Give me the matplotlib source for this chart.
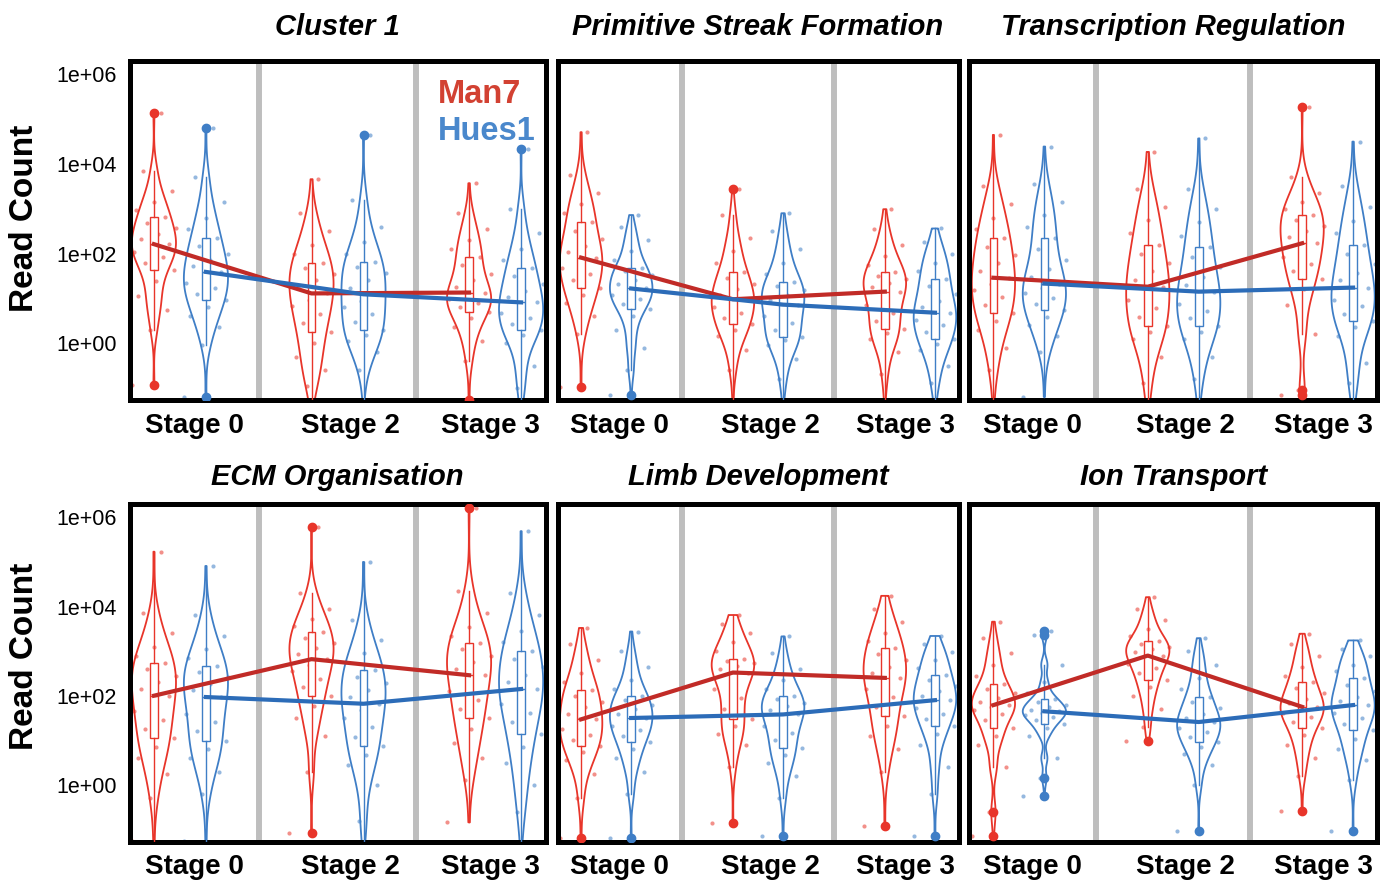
import numpy as np
import matplotlib.pyplot as plt

plt.rcParams['font.family'] = ['Liberation Sans', 'DejaVu Sans']

stages = ['Stage 0', 'Stage 2', 'Stage 3']
titles = ['Cluster 1', 'Primitive Streak Formation', 'Transcription Regulation',
          'ECM Organisation', 'Limb Development', 'Ion Transport']
ytick_vals = [0, 2, 4, 6]
ytick_labels = ['1e+00', '1e+02', '1e+04', '1e+06']

# log10(read count) at the 0, 5, 10 ... 100 % levels
# one list per stage (Stage 0, Stage 2, Stage 3)
cluster1_man7 = [
    [-0.94, 0.3, 0.75, 1.05, 1.38, 1.64, 1.78, 1.92, 2.04, 2.13, 2.21, 2.32, 2.43, 2.56, 2.68, 2.81, 2.97, 3.15, 3.4, 3.85, 5.13],
    [-1.27, -0.95, -0.6, -0.3, 0.0, 0.24, 0.45, 0.65, 0.82, 0.97, 1.11, 1.25, 1.4, 1.55, 1.68, 1.80, 1.98, 2.2, 2.5, 2.9, 3.66],
    [-1.27, -0.4, 0.05, 0.35, 0.55, 0.70, 0.8, 0.9, 0.98, 1.05, 1.13, 1.25, 1.4, 1.55, 1.75, 1.93, 2.1, 2.3, 2.55, 2.9, 3.57],
]
cluster1_hues1 = [
    [-1.2, -0.05, 0.35, 0.6, 0.8, 0.97, 1.1, 1.22, 1.35, 1.47, 1.59, 1.72, 1.86, 2.0, 2.17, 2.35, 2.55, 2.8, 3.15, 3.7, 4.8],
    [-1.27, -0.6, -0.2, 0.05, 0.18, 0.29, 0.48, 0.65, 0.8, 0.95, 1.09, 1.24, 1.4, 1.56, 1.7, 1.82, 2.0, 2.25, 2.6, 3.2, 4.65],
    [-1.27, -1.0, -0.5, 0.0, 0.18, 0.29, 0.42, 0.55, 0.68, 0.8, 0.91, 1.03, 1.17, 1.32, 1.5, 1.67, 1.85, 2.1, 2.45, 3.0, 4.33],
]
streak_man7 = [
    [-0.98, 0.2, 0.6, 0.9, 1.08, 1.24, 1.4, 1.55, 1.68, 1.8, 1.91, 2.03, 2.17, 2.32, 2.5, 2.71, 2.9, 3.1, 3.35, 3.75, 4.71],
    [-1.27, -0.6, -0.15, 0.15, 0.3, 0.42, 0.55, 0.68, 0.8, 0.9, 0.98, 1.08, 1.2, 1.33, 1.46, 1.59, 1.8, 2.05, 2.35, 2.85, 3.44],
    [-1.27, -0.7, -0.2, 0.1, 0.22, 0.31, 0.5, 0.68, 0.85, 1.0, 1.15, 1.25, 1.34, 1.43, 1.51, 1.59, 1.75, 1.95, 2.2, 2.55, 2.99],
]
streak_hues1 = [
    [-1.16, -0.6, -0.1, 0.3, 0.6, 0.76, 0.88, 0.98, 1.07, 1.15, 1.22, 1.31, 1.41, 1.52, 1.6, 1.67, 1.85, 2.05, 2.3, 2.6, 2.86],
    [-1.27, -0.8, -0.35, -0.05, 0.06, 0.14, 0.3, 0.45, 0.6, 0.74, 0.86, 0.97, 1.08, 1.18, 1.28, 1.37, 1.55, 1.8, 2.1, 2.5, 2.9],
    [-1.27, -0.9, -0.5, -0.15, -0.02, 0.09, 0.25, 0.4, 0.52, 0.6, 0.68, 0.8, 0.95, 1.1, 1.28, 1.44, 1.6, 1.8, 2.0, 2.25, 2.56],
]
transcr_man7 = [
    [-1.27, -0.6, -0.1, 0.3, 0.5, 0.68, 0.85, 1.02, 1.18, 1.32, 1.46, 1.62, 1.8, 1.97, 2.15, 2.34, 2.55, 2.8, 3.1, 3.5, 4.65],
    [-1.27, -0.9, -0.3, 0.1, 0.25, 0.39, 0.58, 0.78, 0.97, 1.12, 1.26, 1.42, 1.6, 1.8, 2.0, 2.2, 2.45, 2.75, 3.05, 3.45, 4.27],
    [-1.15, -1.05, 0.2, 0.85, 1.2, 1.43, 1.6, 1.77, 1.93, 2.08, 2.23, 2.37, 2.5, 2.62, 2.75, 2.87, 3.0, 3.15, 3.35, 3.7, 5.28],
]
transcr_hues1 = [
    [-1.2, -0.2, 0.15, 0.4, 0.58, 0.73, 0.87, 1.0, 1.12, 1.22, 1.33, 1.48, 1.65, 1.85, 2.1, 2.34, 2.6, 2.85, 3.15, 3.55, 4.39],
    [-1.27, -0.8, -0.3, 0.1, 0.25, 0.39, 0.55, 0.72, 0.88, 1.02, 1.15, 1.3, 1.48, 1.7, 1.92, 2.15, 2.4, 2.7, 3.0, 3.45, 4.57],
    [-1.27, -0.9, -0.45, 0.15, 0.35, 0.49, 0.65, 0.82, 0.97, 1.1, 1.24, 1.4, 1.57, 1.77, 1.98, 2.2, 2.45, 2.72, 3.05, 3.5, 4.5],
]
ecm_man7 = [
    [-1.25, -0.3, 0.25, 0.6, 0.85, 1.06, 1.25, 1.45, 1.65, 1.83, 2.0, 2.15, 2.3, 2.45, 2.6, 2.73, 2.9, 3.1, 3.4, 3.85, 5.23],
    [-1.07, 0.3, 1.1, 1.5, 1.78, 2.0, 2.2, 2.38, 2.55, 2.7, 2.82, 2.94, 3.06, 3.18, 3.3, 3.42, 3.56, 3.72, 3.95, 4.3, 5.79],
    [-0.84, 0.1, 0.6, 0.95, 1.25, 1.5, 1.7, 1.9, 2.1, 2.3, 2.46, 2.6, 2.75, 2.9, 3.04, 3.18, 3.35, 3.55, 3.85, 4.35, 6.2],
]
ecm_hues1 = [
    [-1.25, -0.2, 0.3, 0.6, 0.8, 0.98, 1.2, 1.4, 1.6, 1.8, 1.97, 2.12, 2.27, 2.41, 2.54, 2.66, 2.85, 3.05, 3.35, 3.8, 4.91],
    [-1.27, -0.8, 0.0, 0.45, 0.68, 0.87, 1.08, 1.3, 1.5, 1.67, 1.82, 1.97, 2.12, 2.28, 2.43, 2.58, 2.75, 2.95, 3.25, 3.7, 5.0],
    [-1.27, -0.6, 0.0, 0.5, 0.85, 1.15, 1.4, 1.62, 1.82, 2.0, 2.15, 2.3, 2.47, 2.65, 2.83, 3.01, 3.2, 3.45, 3.8, 4.3, 5.69],
]
limb_man7 = [
    [-1.2, -0.3, 0.25, 0.55, 0.73, 0.87, 1.0, 1.12, 1.25, 1.36, 1.47, 1.6, 1.74, 1.87, 2.0, 2.12, 2.3, 2.5, 2.8, 3.15, 3.52],
    [-0.86, 0.4, 0.9, 1.15, 1.32, 1.47, 1.7, 1.95, 2.15, 2.35, 2.52, 2.6, 2.67, 2.73, 2.78, 2.83, 3.0, 3.2, 3.4, 3.6, 3.81],
    [-0.93, 0.3, 0.8, 1.1, 1.33, 1.54, 1.75, 1.98, 2.15, 2.28, 2.4, 2.52, 2.65, 2.79, 2.93, 3.07, 3.22, 3.4, 3.65, 3.95, 4.24],
]
limb_hues1 = [
    [-1.2, -0.2, 0.3, 0.6, 0.8, 0.97, 1.1, 1.22, 1.32, 1.41, 1.5, 1.6, 1.7, 1.8, 1.9, 1.99, 2.15, 2.35, 2.65, 3.0, 3.44],
    [-1.15, -0.3, 0.2, 0.5, 0.68, 0.83, 1.0, 1.17, 1.32, 1.46, 1.58, 1.67, 1.76, 1.84, 1.92, 1.99, 2.15, 2.35, 2.6, 2.95, 3.33],
    [-1.14, -0.2, 0.4, 0.9, 1.15, 1.32, 1.47, 1.6, 1.72, 1.81, 1.9, 2.0, 2.1, 2.22, 2.35, 2.47, 2.62, 2.8, 2.98, 3.15, 3.34],
]
ion_man7 = [
    [-1.14, -0.6, 0.4, 0.9, 1.1, 1.27, 1.45, 1.58, 1.67, 1.74, 1.79, 1.86, 1.95, 2.06, 2.16, 2.26, 2.45, 2.7, 2.95, 3.3, 3.66],
    [0.98, 1.3, 1.7, 2.0, 2.2, 2.36, 2.5, 2.62, 2.72, 2.81, 2.9, 2.97, 3.04, 3.1, 3.16, 3.22, 3.35, 3.5, 3.7, 3.95, 4.21],
    [-0.58, 0.2, 0.6, 0.9, 1.12, 1.28, 1.42, 1.53, 1.62, 1.69, 1.75, 1.83, 1.93, 2.05, 2.17, 2.3, 2.45, 2.65, 2.9, 3.15, 3.39],
]
ion_hues1 = [
    [-0.25, 0.15, 0.6, 1.1, 1.27, 1.37, 1.45, 1.52, 1.57, 1.61, 1.65, 1.69, 1.74, 1.8, 1.86, 1.93, 2.05, 2.3, 2.7, 3.37, 3.45],
    [-1.03, 0.0, 0.45, 0.7, 0.85, 0.97, 1.08, 1.18, 1.27, 1.34, 1.41, 1.5, 1.6, 1.72, 1.85, 1.97, 2.15, 2.4, 2.7, 3.0, 3.29],
    [-1.03, 0.1, 0.55, 0.8, 1.02, 1.22, 1.37, 1.5, 1.61, 1.7, 1.79, 1.88, 1.98, 2.1, 2.24, 2.4, 2.55, 2.7, 2.88, 3.05, 3.24],
]

panels = [
    (titles[0], cluster1_man7, cluster1_hues1),
    (titles[1], streak_man7, streak_hues1),
    (titles[2], transcr_man7, transcr_hues1),
    (titles[3], ecm_man7, ecm_hues1),
    (titles[4], limb_man7, limb_hues1),
    (titles[5], ion_man7, ion_hues1),
]

red, red_line = '#E8352A', '#C12B27'
blue, blue_line = '#3F7EC6', '#2C6CB8'


def draw_violin(ax, p, vals, col, half=0.14):
    # gaussian kde over the read-off levels, trimmed to min/max like ggplot
    v = np.asarray(vals, dtype=float)
    w = np.ones(len(v))
    w[[0, -1]] = 0.15
    w[[1, -2]] = 0.7
    q1, q3 = np.percentile(v, [25, 75])
    h = 0.36 * min(v.std(), (q3 - q1) / 1.34)
    y = np.linspace(v.min(), v.max(), 300)
    d = (w * np.exp(-0.5 * ((y[:, None] - v[None, :]) / h) ** 2)).sum(axis=1)
    d = d / d.max() * half
    ax.fill_betweenx(y, p - d, p + d, facecolor='none', edgecolor=col, lw=1.3, zorder=2)


W, H = 1388, 889
fig = plt.figure(figsize=(W / 100, H / 100), dpi=100)
col_x = [(129.5, 545.5), (557.5, 958.5), (969.5, 1377)]
row_y = [(61, 400), (504, 841.5)]
title_pad = [19, 14]

for i, (title, man7, hues1) in enumerate(panels):
    r, c = divmod(i, 3)
    x0, x1 = col_x[c]
    y0, y1 = row_y[r]
    ax = fig.add_axes([x0 / W, 1 - y1 / H, (x1 - x0) / W, (y1 - y0) / H])

    ax.axvline(1.5, color='#BEBEBE', lw=4.3, zorder=0)
    ax.axvline(2.5, color='#BEBEBE', lw=4.3, zorder=0)

    for data, col, lcol, dx in [(man7, red, red_line, -0.165), (hues1, blue, blue_line, 0.165)]:
        pos = np.arange(1, 4) + dx
        for p, vals in zip(pos, data):
            n = len(vals)
            jit = ((np.arange(n) * 8) % n / (n - 1) - 0.5) * 0.28
            ax.scatter(p + jit, vals, s=9, color=col, alpha=0.55, lw=0, zorder=1)
            draw_violin(ax, p, vals, col)

        ax.boxplot(data, positions=pos, widths=0.05, patch_artist=True, showcaps=False,
                   manage_ticks=False, zorder=3,
                   boxprops=dict(facecolor='white', edgecolor=col, lw=1),
                   whiskerprops=dict(color=col, lw=1),
                   medianprops=dict(color=col, lw=1),
                   flierprops=dict(marker='o', mfc=col, mec=col, ms=6))

        med = [np.median(d) for d in data]
        ax.plot(pos, med, color=lcol, lw=3, zorder=4)

    ax.set_xlim(0.68, 3.32)
    ax.set_ylim(-1.27, 6.30)
    ax.set_xticks([1.09, 2.08, 2.97])
    ax.set_xticklabels(stages, fontsize=20, fontweight='bold')
    ax.set_yticks(ytick_vals)
    if c == 0:
        ax.set_yticklabels(ytick_labels, fontsize=15.5)
    else:
        ax.set_yticklabels([])
    ax.tick_params(length=0)
    ax.tick_params(axis='x', pad=9)
    ax.tick_params(axis='y', pad=9)
    for s in ax.spines.values():
        s.set_linewidth(3.6)
    ax.set_title(title, fontsize=21, fontweight='bold', fontstyle='italic', pad=title_pad[r])

for yc in [218, 656]:
    fig.text(25 / W, 1 - yc / H, 'Read Count', rotation=90, fontsize=24,
             fontweight='bold', ha='center', va='center')

fig.text(438 / W, 1 - 103 / H, 'Man7', color='#D24132', fontsize=23.5,
         fontweight='bold', va='baseline')
fig.text(438 / W, 1 - 140 / H, 'Hues1', color='#4A88CC', fontsize=23.5,
         fontweight='bold', va='baseline')

plt.savefig('out.png', dpi=100)
